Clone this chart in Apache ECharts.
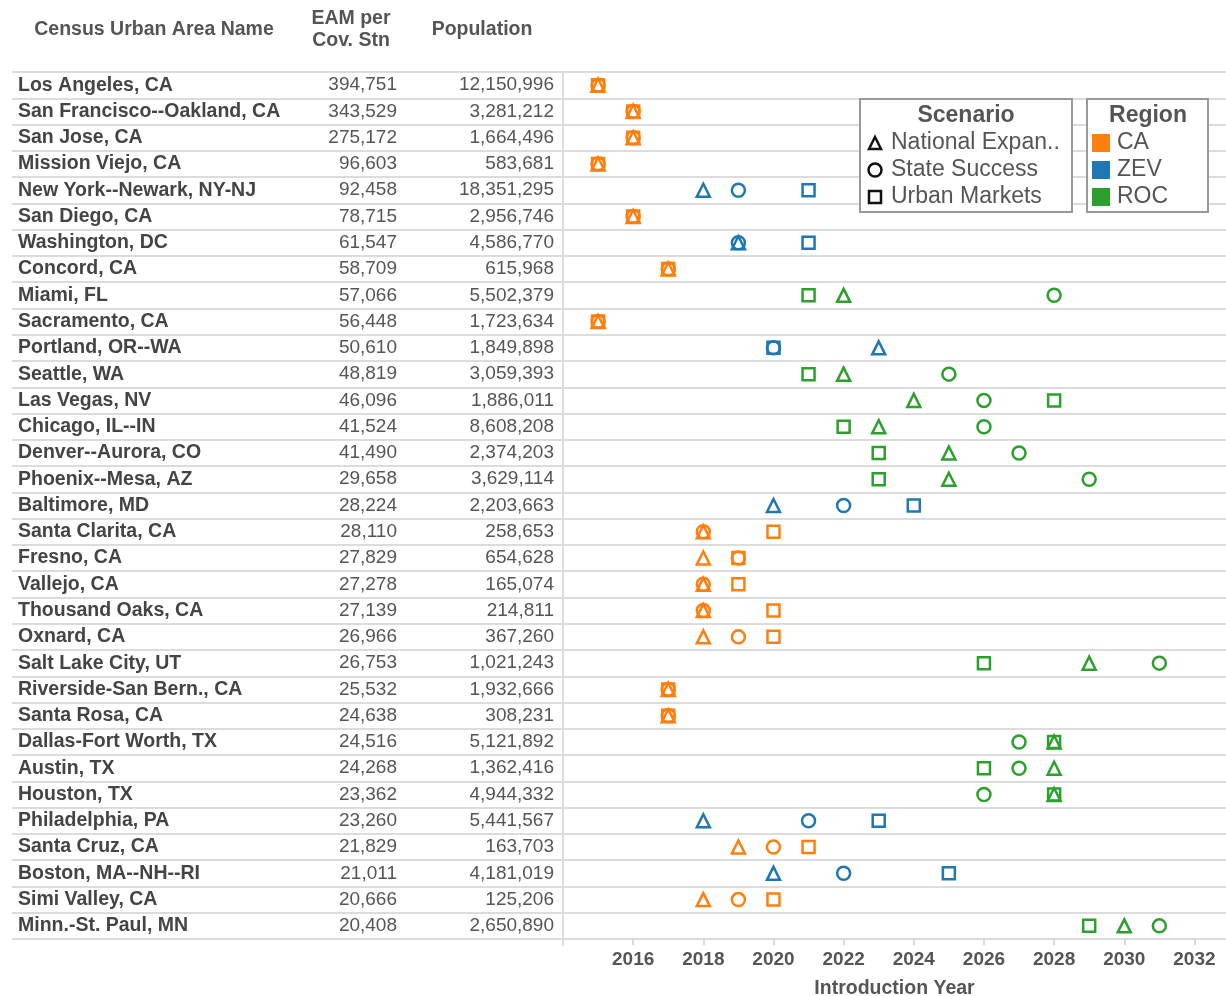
<!DOCTYPE html>
<html>
<head>
<meta charset="utf-8">
<script src="https://cdn.jsdelivr.net/npm/echarts@6/dist/echarts.min.js"></script>
<style>
  html, body { margin: 0; padding: 0; background: #fff; }
  #chart { width: 1226px; height: 996px; }
</style>
</head>
<body>
<div id="chart"></div>
<script>
  var cities = ['Los Angeles, CA', 'San Francisco--Oakland, CA', 'San Jose, CA', 'Mission Viejo, CA',
    'New York--Newark, NY-NJ', 'San Diego, CA', 'Washington, DC', 'Concord, CA', 'Miami, FL',
    'Sacramento, CA', 'Portland, OR--WA', 'Seattle, WA', 'Las Vegas, NV', 'Chicago, IL--IN',
    'Denver--Aurora, CO', 'Phoenix--Mesa, AZ', 'Baltimore, MD', 'Santa Clarita, CA', 'Fresno, CA',
    'Vallejo, CA', 'Thousand Oaks, CA', 'Oxnard, CA', 'Salt Lake City, UT', 'Riverside-San Bern., CA',
    'Santa Rosa, CA', 'Dallas-Fort Worth, TX', 'Austin, TX', 'Houston, TX', 'Philadelphia, PA',
    'Santa Cruz, CA', 'Boston, MA--NH--RI', 'Simi Valley, CA', 'Minn.-St. Paul, MN'];
  var eamPerStation = [394751, 343529, 275172, 96603, 92458, 78715, 61547, 58709, 57066, 56448,
    50610, 48819, 46096, 41524, 41490, 29658, 28224, 28110, 27829, 27278, 27139, 26966, 26753,
    25532, 24638, 24516, 24268, 23362, 23260, 21829, 21011, 20666, 20408];
  var population = [12150996, 3281212, 1664496, 583681, 18351295, 2956746, 4586770, 615968,
    5502379, 1723634, 1849898, 3059393, 1886011, 8608208, 2374203, 3629114, 2203663, 258653,
    654628, 165074, 214811, 367260, 1021243, 1932666, 308231, 5121892, 1362416, 4944332,
    5441567, 163703, 4181019, 125206, 2650890];
  var region = ['CA', 'CA', 'CA', 'CA', 'ZEV', 'CA', 'ZEV', 'CA', 'ROC', 'CA', 'ZEV', 'ROC', 'ROC',
    'ROC', 'ROC', 'ROC', 'ZEV', 'CA', 'CA', 'CA', 'CA', 'CA', 'ROC', 'CA', 'CA', 'ROC', 'ROC',
    'ROC', 'ZEV', 'CA', 'ZEV', 'CA', 'ROC'];
  // introduction year per scenario
  var nationalExpansion = [2015, 2016, 2016, 2015, 2018, 2016, 2019, 2017, 2022, 2015, 2023, 2022,
    2024, 2023, 2025, 2025, 2020, 2018, 2018, 2018, 2018, 2018, 2029, 2017, 2017, 2028, 2028,
    2028, 2018, 2019, 2020, 2018, 2030];
  var stateSuccess = [2015, 2016, 2016, 2015, 2019, 2016, 2019, 2017, 2028, 2015, 2020, 2025,
    2026, 2026, 2027, 2029, 2022, 2018, 2019, 2018, 2018, 2019, 2031, 2017, 2017, 2027, 2027,
    2026, 2021, 2020, 2022, 2019, 2031];
  var urbanMarkets = [2015, 2016, 2016, 2015, 2021, 2016, 2021, 2017, 2021, 2015, 2020, 2021,
    2028, 2022, 2023, 2023, 2024, 2020, 2019, 2019, 2020, 2020, 2026, 2017, 2017, 2028, 2026,
    2028, 2023, 2021, 2025, 2020, 2029];
  var regionNames = ['CA', 'ZEV', 'ROC'];
  var regionColors = { CA: '#FF7F0E', ZEV: '#1F77B4', ROC: '#2CA02C' };
  var scenarioNames = ['National Expan..', 'State Success', 'Urban Markets'];

  var FONT = '"Liberation Sans", Arial, sans-serif';
  var GRID_TOP = 72, GRID_BOTTOM = 57;

  function fmt(n) {
    return String(n).replace(/\B(?=(\d{3})+(?!\d))/g, ',');
  }

  function points(years) {
    return years.map(function (y, i) {
      return {
        value: [y, i],
        itemStyle: { borderColor: regionColors[region[i]] }
      };
    });
  }

  function scatter(name, symbol, size, years) {
    return {
      name: name,
      type: 'scatter',
      xAxisIndex: 1,
      yAxisIndex: 1,
      symbol: symbol,
      symbolSize: size,
      itemStyle: { color: 'rgba(0,0,0,0)', borderWidth: 2.5, opacity: 1 },
      data: points(years),
      z: 5
    };
  }

  var myChart = echarts.init(document.getElementById('chart'));

  // legend boxes (Tableau style), built with graphic elements
  var legend = [];
  legend.push({ type: 'rect', shape: { x: 860, y: 99, width: 212, height: 113 },
    style: { fill: '#fff', stroke: '#999', lineWidth: 2 }, z: 100 });
  legend.push({ type: 'text', x: 966, y: 116, style: { text: 'Scenario', font: 'bold 23px ' + FONT,
    fill: '#555', align: 'center', verticalAlign: 'middle' }, z: 101 });
  legend.push({ type: 'polygon', shape: { points: [[869, 149], [875, 137], [881, 149]] },
    style: { fill: 'none', stroke: '#111', lineWidth: 2.5 }, z: 101 });
  legend.push({ type: 'circle', shape: { cx: 875, cy: 170, r: 6.5 },
    style: { fill: 'none', stroke: '#111', lineWidth: 2.5 }, z: 101 });
  legend.push({ type: 'rect', shape: { x: 869, y: 191, width: 12, height: 12 },
    style: { fill: 'none', stroke: '#111', lineWidth: 2.5 }, z: 101 });
  scenarioNames.forEach(function (s, k) {
    legend.push({ type: 'text', x: 891, y: 143 + k * 27, style: { text: s, font: '23px ' + FONT,
      fill: '#555', verticalAlign: 'middle' }, z: 101 });
  });
  legend.push({ type: 'rect', shape: { x: 1087, y: 99, width: 121, height: 113 },
    style: { fill: '#fff', stroke: '#999', lineWidth: 2 }, z: 100 });
  legend.push({ type: 'text', x: 1148, y: 116, style: { text: 'Region', font: 'bold 23px ' + FONT,
    fill: '#555', align: 'center', verticalAlign: 'middle' }, z: 101 });
  regionNames.forEach(function (r, k) {
    legend.push({ type: 'rect', shape: { x: 1092, y: 134 + k * 27, width: 18, height: 18 },
      style: { fill: regionColors[r] }, z: 101 });
    legend.push({ type: 'text', x: 1117, y: 143 + k * 27, style: { text: r, font: '23px ' + FONT,
      fill: '#555', verticalAlign: 'middle' }, z: 101 });
  });

  // column headers
  var headers = [
    { type: 'text', x: 154, y: 30, style: { text: 'Census Urban Area Name', font: 'bold 19.5px ' + FONT,
      fill: '#555', align: 'center', verticalAlign: 'middle' } },
    { type: 'text', x: 351, y: 30, style: { text: 'EAM per\nCov. Stn', font: 'bold 19.5px ' + FONT,
      lineHeight: 22, fill: '#555', align: 'center', verticalAlign: 'middle' } },
    { type: 'text', x: 482, y: 30, style: { text: 'Population', font: 'bold 19.5px ' + FONT,
      fill: '#555', align: 'center', verticalAlign: 'middle' } },
    // small downward extension of the plot's left border, as in the original
    { type: 'line', shape: { x1: 563, y1: 939, x2: 563, y2: 946 },
      style: { stroke: '#dcdcdc', lineWidth: 2 } }
  ];

  var option = {
    backgroundColor: '#fff',
    animation: false,
    textStyle: { fontFamily: FONT },
    grid: [
      { left: 12, right: 0, top: GRID_TOP, bottom: GRID_BOTTOM, outerBoundsMode: 'none' },
      { left: 563, right: 0, top: GRID_TOP, bottom: GRID_BOTTOM, outerBoundsMode: 'none' }
    ],
    xAxis: [
      { gridIndex: 0, type: 'value', show: false },
      {
        gridIndex: 1,
        type: 'value',
        min: 2014,
        max: 2032.9,
        interval: 2,
        name: 'Introduction Year',
        nameLocation: 'middle',
        nameGap: 40,
        nameTextStyle: { color: '#555', fontSize: 19.5, fontWeight: 'bold' },
        axisLine: { show: false },
        axisTick: { show: true, length: 6, lineStyle: { color: '#d0d0d0', width: 1.5 } },
        axisLabel: {
          color: '#555', fontSize: 19, fontWeight: 'bold', margin: 11,
          showMinLabel: false, showMaxLabel: false,
          formatter: function (v) { return String(v); }
        },
        splitLine: { show: false }
      }
    ],
    yAxis: [
      {
        gridIndex: 0,
        type: 'category',
        inverse: true,
        data: cities,
        axisLine: { show: false },
        axisTick: { show: false },
        splitLine: { show: true, lineStyle: { color: '#dcdcdc', width: 2 } },
        axisLabel: {
          inside: true,
          margin: 6,
          formatter: function (v, i) {
            return '{n|' + v + '}{e|' + fmt(eamPerStation[i]) + '}{p|' + fmt(population[i]) + '}';
          },
          rich: {
            n: { width: 280, align: 'left', fontSize: 19.5, fontWeight: 'bold', color: '#444' },
            e: { width: 99, align: 'right', fontSize: 19, color: '#555' },
            p: { width: 157, align: 'right', fontSize: 19, color: '#555' }
          }
        }
      },
      {
        gridIndex: 1,
        type: 'category',
        inverse: true,
        data: cities,
        axisLine: { show: true, lineStyle: { color: '#dcdcdc', width: 2 } },
        axisTick: { show: false },
        axisLabel: { show: false },
        splitLine: { show: false }
      }
    ],
    graphic: headers.concat(legend),
    series: [
      scatter(scenarioNames[0], 'triangle', 13, nationalExpansion),
      scatter(scenarioNames[1], 'circle', 13, stateSuccess),
      scatter(scenarioNames[2], 'rect', 12, urbanMarkets)
    ]
  };

  myChart.setOption(option);
</script>
</body>
</html>
